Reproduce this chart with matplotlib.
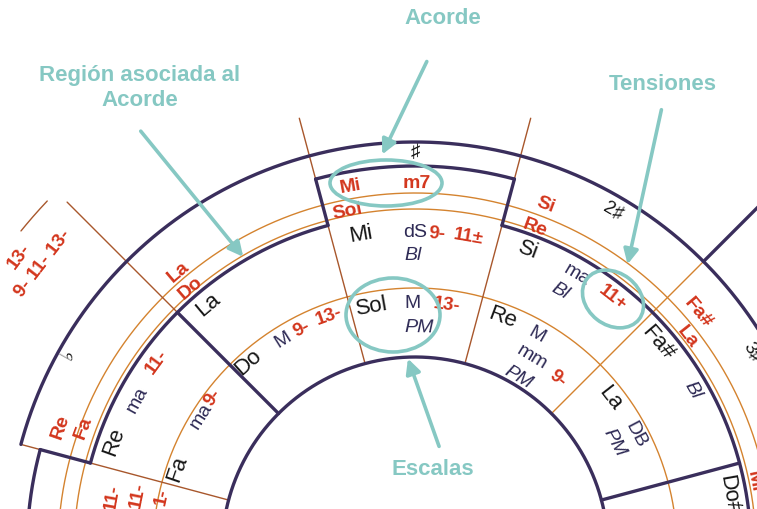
import numpy as np
import matplotlib.pyplot as plt
from matplotlib.patches import Ellipse, FancyArrowPatch

plt.rcParams['font.family'] = ['Liberation Sans', 'DejaVu Sans']

# ---- labels read from the wheel ----
# outer ring: chord name (red) and the relative below it
chord_labels = ["Re", "Fa", "La", "Do", "Mi", "m7", "Sol", "Si", "Re", "Fa#", "La", "Mi"]
key_signs = ["♭", "♯", "2♯", "3♯"]
# middle ring: minor keys
minor_roots = ["Re", "La", "Mi", "Si", "Fa#", "Do#"]
minor_modes = ["ma", "dS", "Bl", "ma", "Bl", "Bl"]
minor_tensions = ["11-", "9-", "11±", "11+"]
# inner ring: scales
scale_roots = ["Fa", "Do", "Sol", "Re", "La"]
scale_modes = ["ma", "M", "M", "PM", "M", "mm", "PM", "DB", "PM"]
scale_tensions = ["9-", "9-", "13-", "13-", "9-"]
# tensions of the next sector, cut by the border
edge_tensions = ["11-", "11-", "1-", "9- 11- 13-", "13-"]
# callouts
notes = ["Acorde", "Región asociada al\nAcorde", "Tensiones", "Escalas"]

# ---- layout: (angle in degrees, radius in px) ----
chord_pos = [(160.7, 376), (159.7, 354), (130.3, 366), (130.5, 346),
             (100.0, 370), (89.7, 367), (101.3, 346), (69.4, 370),
             (69.6, 345), (40.0, 370), (38.2, 346), (11.5, 346)]
key_pos = [(150.5, 398), (90.0, 398), (59.7, 393), (30.6, 391)]
minor_root_pos = [(160, 320), (130, 322), (99.8, 321), (69.4, 321), (40.6, 320), (10.0, 319)]
minor_mode_pos = [(151.4, 316), (90, 318), (90.4, 296), (59.6, 320), (60.8, 297), (30, 321)]
minor_tension_pos = [(143.8, 320), (86, 318), (80.3, 318), (52, 321)]
scale_root_pos = [(161, 252), (131.6, 252), (100, 248), (69.5, 249), (38, 248)]
scale_mode_pos = [(147.7, 253), (122, 249), (90.7, 248), (89, 223), (60.5, 248),
                  (58.8, 226), (59.4, 202), (27.8, 249), (28.4, 227)]
scale_tension_pos = [(142.8, 254), (117, 249), (110, 250), (82.6, 248), (50.4, 224)]
edge_tension_pos = [(169.9, 307), (168.6, 283), (168.0, 258), (142.3, 470), (143.3, 493)]

CX, CY = 415, 551
R0, R1, R2, R2o, R3o, RBOX, ROUT = 193, 262, 336, 341, 357, 384, 408

DARK = '#3a2e5c'
ORANGE = '#d4832f'
BROWN = '#a8572c'
RED = '#d3361d'
NAVY = '#2e2a55'
BLACK = '#161616'
TEAL = '#86c8c3'

fig = plt.figure(figsize=(7.57, 5.10), dpi=100)
ax = fig.add_axes([0, 0, 1, 1])
ax.set_xlim(0, 757)
ax.set_ylim(510, 0)
ax.axis('off')


def polar(a, r):
    t = np.radians(a)
    return CX + r * np.cos(t), CY - r * np.sin(t)


def arc(r, a0, a1, **kw):
    t = np.linspace(a0, a1, 400)
    x, y = polar(t, r)
    ax.plot(x, y, solid_capstyle='round', **kw)


def spoke(a, r0, r1, **kw):
    x, y = polar(np.array([a, a]), np.array([r0, r1]))
    ax.plot(x, y, solid_capstyle='round', **kw)


def label(s, pos, size, color, weight='normal', style='normal'):
    a, r = pos
    x, y = polar(a, r)
    ax.text(x, y, s, rotation=a - 90, rotation_mode='anchor', ha='center',
            va='center', fontsize=size, color=color, fontweight=weight,
            fontstyle=style, clip_on=True, zorder=5)


thin = dict(color=ORANGE, lw=1.0, zorder=2)
brown = dict(color=BROWN, lw=1.0, zorder=2)
thick = dict(color=DARK, lw=2.4, zorder=3)

# thin rings
arc(R1, -5, 185, **thin)
arc(R2o, -5, 185, **thin)
arc(R3o, -5, 185, **thin)
arc(507, 136.5, 141, **brown)

# thin spokes
spoke(105, R0, 447, **brown)
spoke(75, R0, 447, **brown)
spoke(135, R2, 492, **brown)
spoke(165, R0, ROUT, **brown)
spoke(45, R0, ROUT, **thin)

# region outline
arc(R0, -5, 185, **thick)
arc(R2, 105, 165, **thick)
arc(R2, -10, 75, **thick)
arc(RBOX, 75, 105, **thick)
spoke(75, R2, RBOX, **thick)
spoke(105, R2, RBOX, **thick)
spoke(165, R2, RBOX + 4, **thick)
arc(RBOX + 4, 165, 185, **thick)
arc(ROUT, -10, 165, **thick)
spoke(135, R0, R2, **thick)
spoke(15, R0, R2, **thick)
spoke(45, ROUT, 520, **thick)

# outer ring
for s, p in zip(chord_labels, chord_pos):
    label(s, p, 14, RED, weight='bold')
for s, p in zip(key_signs, key_pos):
    label(s, p, 13.5, BLACK)

# middle ring
for s, p in zip(minor_roots, minor_root_pos):
    label(s, p, 16, BLACK)
for s, p in zip(minor_modes, minor_mode_pos):
    label(s, p, 14, NAVY, style='italic' if s in ('Bl', 'PM') else 'normal')
for s, p in zip(minor_tensions, minor_tension_pos):
    label(s, p, 13.5, RED, weight='bold')

# inner ring
for s, p in zip(scale_roots, scale_root_pos):
    label(s, p, 16, BLACK)
for s, p in zip(scale_modes, scale_mode_pos):
    label(s, p, 14, NAVY, style='italic' if s in ('Bl', 'PM') else 'normal')
for s, p in zip(scale_tensions, scale_tension_pos):
    label(s, p, 13.5, RED, weight='bold')
for s, p in zip(edge_tensions, edge_tension_pos):
    label(s, p, 13.5, RED, weight='bold')

# callouts
note_pos = [(443, 18), (140, 88), (663, 85), (433, 470)]
for s, (x, y) in zip(notes, note_pos):
    ax.text(x, y, s, ha='center', va='center', fontsize=16, fontweight='bold',
            color=TEAL, linespacing=1.25, zorder=7)

arrows = [((428, 60), (381, 158)), ((139, 130), (245, 260)),
          ((662, 108), (627, 268)), ((440, 450), (407, 357))]
for tail, tip in arrows:
    ax.add_patch(FancyArrowPatch(tail, tip, arrowstyle='-|>', mutation_scale=22,
                                 color=TEAL, lw=2.6, zorder=7))

ellipses = [((386, 184), 112, 46, 0), ((613, 300), 66, 52, 38), ((393, 316), 94, 74, 0)]
for c, w, h, ang in ellipses:
    ax.add_patch(Ellipse(c, w, h, angle=ang, fill=False, ec=TEAL, lw=2.6, zorder=6))

fig.savefig('out.png', dpi=100, facecolor='white')
